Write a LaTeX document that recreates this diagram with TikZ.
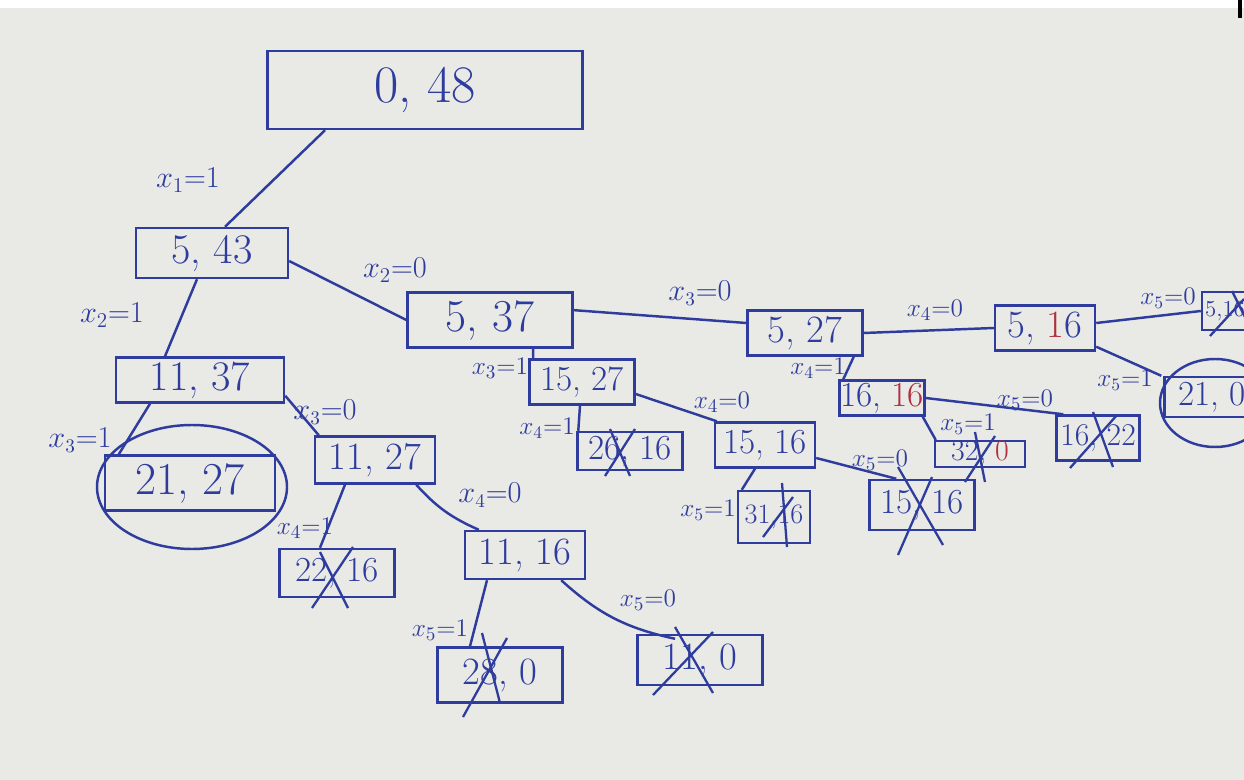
\documentclass[tikz,border=0pt]{standalone}
\usetikzlibrary{calc,shapes.geometric}
\definecolor{ink}{HTML}{2E3C9E}
\definecolor{paper}{HTML}{E9E9E6}
\definecolor{redink}{HTML}{B0303F}
\begin{document}
\begin{tikzpicture}[x=0.02cm,y=-0.02cm,
  box/.style 2 args={draw=ink, line width=1.4pt, text=ink, inner sep=0pt,
    minimum width=#1*0.02cm, minimum height=#2*0.02cm},
  fs/.style={font=\fontsize{#1}{#1}\selectfont},
  lbl/.style={text=ink, inner sep=0pt, font=\fontsize{#1}{#1}\selectfont},
  edge/.style={draw=ink, line width=1.4pt},
  crs/.style={draw=ink, line width=1.3pt},
  ring/.style={draw=ink, line width=1.4pt}]
\useasboundingbox (0,0) rectangle (1244,780);
\clip (0,0) rectangle (1244,780);
\fill[paper] (0,0) rectangle (1244,780);
\fill[white] (0,0) rectangle (1244,8);
\draw[black, line width=2pt] (1240,0) -- (1240,18);

% nodes
\node[box={315}{78}, fs=30] (root) at (425,90) {0, 48};
\node[box={152}{50}, fs=24] (A) at (212,253) {5, 43};
\node[box={168}{45}, fs=24] (B) at (200,380) {11, 37};
\node[box={170}{55}, fs=26] (D) at (190,483) {21, 27};
\node[box={120}{47}, fs=22] (E) at (375,460) {11, 27};
\node[box={115}{48}, fs=20] (F) at (337,573) {22, 16};
\node[box={120}{48}, fs=22] (G) at (525,555) {11, 16};
\node[box={125}{55}, fs=22] (H) at (500,675) {28, 0};
\node[box={125}{50}, fs=22] (I) at (700,660) {11, 0};
\node[box={165}{55}, fs=26] (C) at (490,320) {5, 37};
\node[box={105}{45}, fs=20] (J) at (582,382) {15, 27};
\node[box={105}{38}, fs=20] (L) at (630,451) {26, 16};
\node[box={100}{45}, fs=20] (M) at (765,445) {15, 16};
\node[box={72}{52}, fs=16] (N) at (774,517) {31,16};
\node[box={105}{50}, fs=20] (O) at (922,505) {15, 16};
\node[box={115}{45}, fs=22] (K) at (805,333) {5, 27};
\node[box={100}{45}, fs=22] (Q) at (1045,328) {5, {\color{redink}1}6};
\node[box={85}{35}, fs=20] (P) at (882,398) {16, {\color{redink}16}};
\node[box={90}{22}, fs=17] (R) at (980,454) {32, {\color{redink}0}};
\node[box={83}{45}, fs=18] (S) at (1098,438) {16, 22};
\node[box={64}{38}] (T) at (1234,311) {};
\node[lbl=13, anchor=west] (Tt) at ($(T.west)+(4,0)$) {5,16};
\node[box={95}{40}, fs=20] (U) at (1212,397) {21, 0};

% rings
\draw[ring] (192,487) ellipse [x radius=95, y radius=62];
\draw[ring] (1215,403) ellipse [x radius=55, y radius=44];

% edges
\draw[edge] ($(root.south)+(-100,0)$) -- ($(A.north)+(13,0)$);
\draw[edge] ($(A.south)+(-15,0)$) -- ($(B.north)+(-35,0)$);
\draw[edge] ($(A.east)+(0,8)$) -- (C.west);
\draw[edge] ($(B.south)+(-50,0)$) -- ($(D.north west)+(15,0)$);
\draw[edge] ($(B.south east)+(0,-8)$) -- ($(E.north west)+(5,0)$);
\draw[edge] ($(E.south)+(-30,0)$) -- ($(F.north)+(-17,0)$);
\draw[edge] ($(E.south east)+(-20,0)$) to[bend right=12] ($(G.north west)+(15,0)$);
\draw[edge] ($(G.south)+(-38,0)$) -- ($(H.north)+(-30,0)$);
\draw[edge] ($(G.south east)+(-25,0)$) to[bend right=15] ($(I.north)+(-25,5)$);
\draw[edge] ($(C.south)+(43,0)$) -- ($(J.north west)+(5,0)$);
\draw[edge] ($(C.east)+(-2,-10)$) -- ($(K.west)+(0,-10)$);
\draw[edge] ($(J.south)+(-2,0)$) -- ($(L.north west)+(2,0)$);
\draw[edge] ($(J.east)+(0,12)$) -- ($(M.north west)+(3,0)$);
\draw[edge] ($(M.south)+(-10,0)$) -- ($(N.north west)+(5,0)$);
\draw[edge] ($(M.east)+(0,13)$) -- ($(O.north west)+(28,0)$);
\draw[edge] ($(K.south east)+(-10,0)$) -- ($(P.north west)+(5,0)$);
\draw[edge] (K.east) -- (Q.west);
\draw[edge] ($(P.south east)+(-3,0)$) -- ($(R.north west)+(2,0)$);
\draw[edge] (P.east) -- ($(S.north west)+(8,0)$);
\draw[edge] ($(Q.east)+(0,-5)$) -- (T.west);
\draw[edge] ($(Q.south east)+(0,-5)$) -- ($(U.north west)+(-2,0)$);

% crosses
\draw[crs] ($(F)+(-17,-21)$) -- ($(F)+(11,35)$);
\draw[crs] ($(F)+(16,-26)$) -- ($(F)+(-25,35)$);
\draw[crs] ($(H)+(-18,-42)$) -- ($(H)+(0,28)$);
\draw[crs] ($(H)+(7,-37)$) -- ($(H)+(-37,42)$);
\draw[crs] ($(I)+(-25,-33)$) -- ($(I)+(13,33)$);
\draw[crs] ($(I)+(13,-28)$) -- ($(I)+(-47,35)$);
\draw[crs] ($(L)+(-20,-22)$) -- ($(L)+(0,25)$);
\draw[crs] ($(L)+(5,-22)$) -- ($(L)+(-25,25)$);
\draw[crs] ($(N)+(8,-34)$) -- ($(N)+(13,30)$);
\draw[crs] ($(N)+(19,-20)$) -- ($(N)+(-11,20)$);
\draw[crs] ($(O)+(-24,-38)$) -- ($(O)+(21,40)$);
\draw[crs] ($(O)+(10,-28)$) -- ($(O)+(-24,50)$);
\draw[crs] ($(R)+(-5,-22)$) -- ($(R)+(5,28)$);
\draw[crs] ($(R)+(15,-18)$) -- ($(R)+(-15,28)$);
\draw[crs] ($(S)+(-5,-26)$) -- ($(S)+(15,29)$);
\draw[crs] ($(S)+(19,-23)$) -- ($(S)+(-28,30)$);
\draw[crs] ($(T)+(-2,-20)$) -- ($(T)+(13,10)$);
\draw[crs] ($(T)+(10,-12)$) -- ($(T)+(-24,25)$);

% edge labels
\node[lbl=18] (l1) at (188,180) {$x_1{=}1$};
\node[lbl=17] (l2) at (112,315) {$x_2{=}1$};
\node[lbl=17] (l3) at (395,270) {$x_2{=}0$};
\node[lbl=16] (l4) at (80,440) {$x_3{=}1$};
\node[lbl=16] (l5) at (325,412) {$x_3{=}0$};
\node[lbl=15] (l6) at (500,368) {$x_3{=}1$};
\node[lbl=16] (l7) at (700,293) {$x_3{=}0$};
\node[lbl=15] (l8) at (305,528) {$x_4{=}1$};
\node[lbl=16] (l9) at (490,495) {$x_4{=}0$};
\node[lbl=15] (l10) at (440,630) {$x_5{=}1$};
\node[lbl=15] (l11) at (648,600) {$x_5{=}0$};
\node[lbl=14, anchor=east] (l12) at (575,428) {$x_4{=}1$};
\node[lbl=15] (l13) at (722,402) {$x_4{=}0$};
\node[lbl=14, anchor=east] (l14) at (736,510) {$x_5{=}1$};
\node[lbl=15] (l15) at (880,460) {$x_5{=}0$};
\node[lbl=14, anchor=east] (l16) at (846,368) {$x_4{=}1$};
\node[lbl=15] (l17) at (935,310) {$x_4{=}0$};
\node[lbl=14] (l18) at (968,424) {$x_5{=}1$};
\node[lbl=15] (l19) at (1025,400) {$x_5{=}0$};
\node[lbl=14] (l20) at (1168,298) {$x_5{=}0$};
\node[lbl=14] (l21) at (1125,380) {$x_5{=}1$};
\end{tikzpicture}
\end{document}
